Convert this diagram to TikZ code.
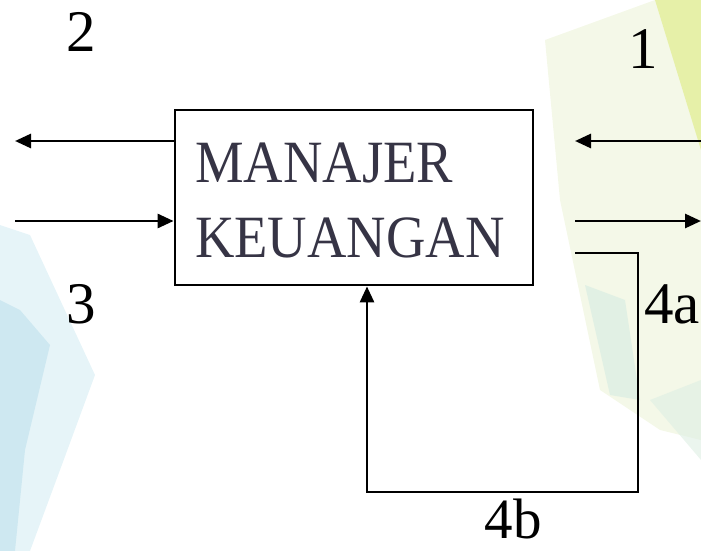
\documentclass[tikz,border=0pt]{standalone}
\usepackage{fontspec}
\setmainfont{Liberation Serif}
\newfontfamily\numfont{Liberation Serif}
\newfontfamily\boxfont[FakeStretch=0.91]{Liberation Serif}
\usetikzlibrary{arrows.meta}
\definecolor{boxtext}{HTML}{363445}
\definecolor{bgblue}{HTML}{C9E6F0}
\definecolor{bgblue2}{HTML}{E6F4F8}
\definecolor{bgyel}{HTML}{E6F0A8}
\definecolor{bgyel2}{HTML}{F4F8E8}
\definecolor{bggreen}{HTML}{DDEFE3}
\tikzset{
  conn/.style={line width=2.8pt,-{Triangle[length=16pt,width=14pt]}},
  lbl/.style={font=\numfont\fontsize{59}{59}\selectfont,anchor=base,inner sep=0pt},
  btxt/.style={font=\boxfont\fontsize{60}{60}\selectfont,text=boxtext,anchor=base west,inner sep=0pt},
  mbox/.style={draw,line width=2.8pt,minimum width=358pt,minimum height=175pt,inner sep=0pt}
}
\begin{document}
\begin{tikzpicture}[x=1pt,y=-1pt]
\useasboundingbox (0,0) rectangle (701,551);
% background decoration
\fill[bgblue2] (0,225) -- (30,235) -- (95,375) -- (60,470) -- (30,551) -- (0,551) -- cycle;
\fill[bgblue,opacity=0.8] (0,300) -- (20,310) -- (50,345) -- (25,450) -- (15,551) -- (0,551) -- cycle;
\fill[bgyel2] (545,40) -- (655,0) -- (701,0) -- (701,440) -- (660,430) -- (600,390) -- (560,200) -- cycle;
\fill[bgyel] (655,0) -- (701,0) -- (701,150) -- cycle;
\fill[bggreen,opacity=0.8] (585,285) -- (625,300) -- (640,400) -- (610,395) -- cycle;
\fill[bggreen,opacity=0.6] (650,400) -- (701,380) -- (701,460) -- cycle;
% main box
\node[mbox] (box) at (354,197.5) {};
\node[btxt] (t1) at (195,182) {MANAJER};
\node[btxt] (t2) at (195,257) {KEUANGAN};
% coordinates
\coordinate (l2) at (15,141);
\coordinate (l3) at (15,221);
\coordinate (r1a) at (701,141);
\coordinate (r1b) at (575,141);
\coordinate (r2a) at (575,221);
\coordinate (r2b) at (701,221);
\coordinate (f0) at (575,253);
\coordinate (f1) at (638,253);
\coordinate (f2) at (638,492);
\coordinate (f3) at (367,492);
% connectors
\draw[conn] (box.west |- l2) -- (l2);
\draw[conn] (l3) -- (box.west |- l3);
\draw[conn] (r1a) -- (r1b);
\draw[conn] (r2a) -- (r2b);
\draw[conn,line join=miter] (f0) -- (f1) -- (f2) -- (f3) -- (f3 |- box.south);
% labels
\node[lbl] (n2) at (81,52) {2};
\node[lbl] (n1) at (643,68) {1};
\node[lbl] (n3) at (81,323) {3};
\node[lbl] (n4a) at (672,323) {4a};
\node[lbl,font=\numfont\fontsize{57}{57}\selectfont] (n4b) at (513,538) {4b};
\end{tikzpicture}
\end{document}
